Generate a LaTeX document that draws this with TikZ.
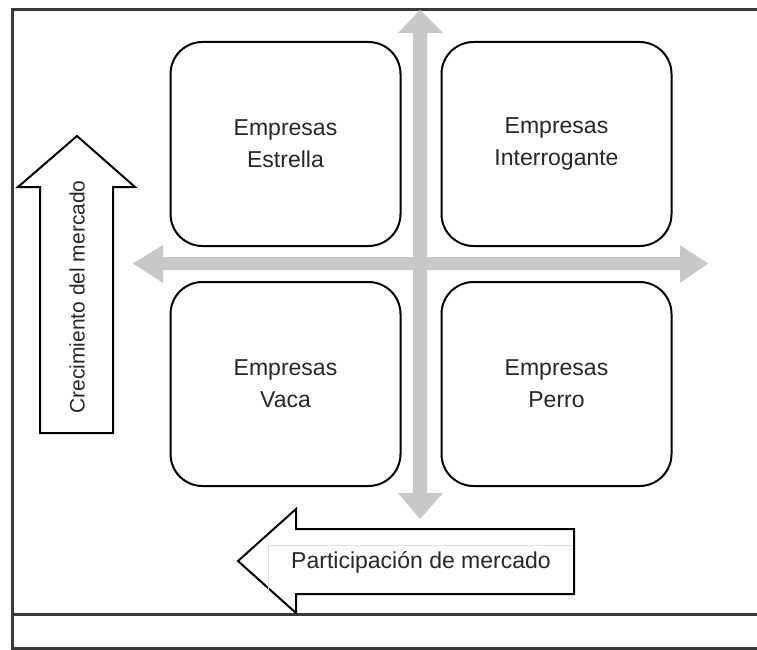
\documentclass[tikz,border=0pt]{standalone}
\usepackage{fontspec}
\setmainfont{Liberation Sans}
\definecolor{cruz}{HTML}{C8C8C8}
\definecolor{marco}{HTML}{3A3A3A}
\tikzset{
  caja/.style={draw, line width=2pt, rounded corners=32pt, minimum width=230pt, minimum height=204pt, align=center, text=black!85, font=\fontsize{23}{32}\selectfont},
  flecha/.style={draw, line width=2pt, fill=white, line join=miter},
  rotulo/.style={text=black!85, inner sep=0pt, font=\fontsize{23}{28}\selectfont}
}
\begin{document}
\begin{tikzpicture}[x=1pt,y=-1pt]
\useasboundingbox (0,0) rectangle (757,650);
\def\xC{420};
\def\yC{263.5};
\coordinate (C) at (\xC,\yC);
\draw[marco, line width=3pt] (757,10) -- (12,10) -- (12,648) -- (757,648);
\draw[marco, line width=3pt] (12,614) -- (757,614);
\fill[cruz] (413,33) -- (398,33) -- (\xC,10) -- (443,33) -- (427,33) -- (427,493) -- (443,493) -- (\xC,519) -- (398,493) -- (413,493) -- cycle;
\fill[cruz] (163,257) -- (163,245) -- (133,\yC) -- (163,283) -- (163,270) -- (680,270) -- (680,283) -- (708,\yC) -- (680,245) -- (680,257) -- cycle;
\node[caja] (estrella) at (285.5,144) {Empresas\\Estrella};
\node[caja] (interrogante) at (556.5,144) {Empresas\\Interrogante};
\node[caja] (vaca) at (285.5,384) {Empresas\\Vaca};
\node[caja] (perro) at (556.5,384) {Empresas\\Perro};
\draw[flecha] (40,433) -- (40,187) -- (18,187) -- (77,136) -- (135,187) -- (113,187) -- (113,433) -- cycle;
\node[rotulo, rotate=90, font=\fontsize{21}{25}\selectfont] (crecimiento) at (77,297) {Crecimiento del mercado};
\draw[flecha] (574,529) -- (296,529) -- (296,509) -- (238,561) -- (296,613) -- (296,594) -- (574,594) -- cycle;
\draw[black!12] (268,593) -- (268,545) -- (573,545);
\node[rotulo] (participacion) at (421,562) {Participación de mercado};
\end{tikzpicture}
\end{document}
